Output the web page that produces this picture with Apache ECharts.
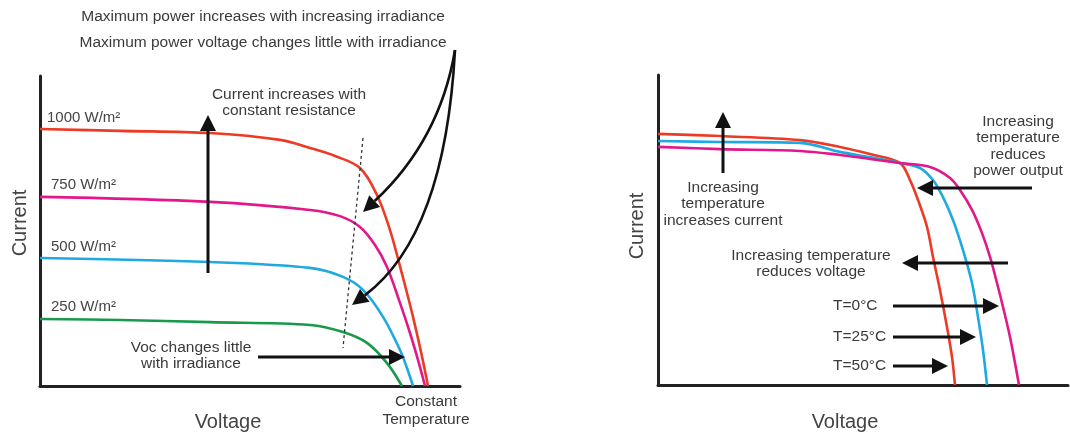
<!DOCTYPE html>
<html>
<head>
<meta charset="utf-8">
<script src="https://cdn.jsdelivr.net/npm/echarts@6/dist/echarts.min.js"></script>
<style>
html,body{margin:0;padding:0;background:#fff;}
#chart{width:1070px;height:434px;}
</style>
</head>
<body>
<div id="chart"></div>
<script>
// ---- Data (Voltage, Current) in arbitrary units ----
// Left panel: irradiance curves at constant temperature
const irr1000 = [[0,8.29],[4,8.23],[8.5,8.16],[12,7.94],[13.5,7.68],[14.75,7.42],[16,7.03],[16.85,6.16],[17.5,5.03],[18.05,3.74],[18.35,3.0],[18.65,2.23],[19.05,1.10],[19.4,0]];
const irr750  = [[0,6.10],[8.5,5.94],[13.5,5.68],[15,5.48],[16,5.13],[16.75,4.55],[17.35,3.84],[18,2.68],[18.5,1.71],[18.9,0.84],[19.25,0]];
const irr500  = [[0,4.13],[8.5,4.0],[13.5,3.81],[15.15,3.52],[16.15,3.10],[17.15,2.23],[18,1.16],[18.35,0.58],[18.65,0]];
const irr250  = [[0,2.16],[4,2.13],[8.5,2.06],[13.5,1.97],[15.15,1.74],[16.35,1.39],[17.35,0.74],[18.1,0]];
const irrLabels = ['1000 W/m²','750 W/m²','500 W/m²','250 W/m²'];

// Right panel: temperature curves
const temp50 = [[0,8.10],[3.1,8.03],[7.1,7.90],[9.1,7.68],[10.6,7.45],[12.1,7.16],[12.6,6.61],[13.0,5.97],[13.45,5.10],[13.75,4.13],[14.1,3.06],[14.45,1.87],[14.7,0.90],[14.85,0]];
const temp25 = [[0,7.87],[3.1,7.84],[7.1,7.81],[9.1,7.52],[10.6,7.35],[12.1,7.16],[13.1,7.0],[13.75,6.61],[14.25,6.06],[14.75,5.32],[15.25,4.35],[15.7,3.29],[16.0,2.19],[16.25,1.13],[16.45,0]];
const temp0  = [[0,7.68],[3.1,7.61],[7.1,7.55],[9.1,7.42],[10.6,7.29],[12.1,7.16],[13.6,7.03],[14.6,6.68],[15.1,6.29],[15.7,5.65],[16.2,4.90],[16.6,4.13],[16.95,3.29],[17.25,2.52],[17.6,1.55],[17.85,0.71],[18.05,0]];
const tempLabels = ['T=0°C','T=25°C','T=50°C'];

const RED='#ec3b25', MAG='#e2188a', BLUE='#1ea9e1', GREEN='#179a4c';
const FONT='"Liberation Sans", Arial, Helvetica, sans-serif';
const TXT='#3a3a3a';

function txt(x,y,s,opt){
  opt=opt||{};
  return {type:'text',x:x,y:y,rotation:opt.rot||0,z:10,
    style:{text:s,fill:opt.fill||TXT,font:(opt.size||15.5)+'px '+FONT,
      textAlign:opt.align||'center',textVerticalAlign:'middle'}};
}
function head(tx,ty,px,py,L,W){
  const a=Math.atan2(ty-py,tx-px);
  const bx=tx-L*Math.cos(a), by=ty-L*Math.sin(a);
  const nx=-Math.sin(a)*W, ny=Math.cos(a)*W;
  return {base:[bx,by],poly:{type:'polygon',z:10,shape:{points:[[tx,ty],[bx+nx,by+ny],[bx-nx,by-ny]]},style:{fill:'#111'}}};
}
function arrow(x1,y1,x2,y2){
  const h=head(x2,y2,x1,y1,16,8);
  return [{type:'line',z:10,shape:{x1:x1,y1:y1,x2:h.base[0],y2:h.base[1]},style:{stroke:'#111',lineWidth:3}},h.poly];
}
function curveArrow(x1,y1,cx,cy,x2,y2){
  const h=head(x2,y2,cx,cy,16,8);
  return [{type:'bezierCurve',z:10,shape:{x1:x1,y1:y1,cpx1:cx,cpy1:cy,x2:h.base[0],y2:h.base[1]},style:{stroke:'#111',lineWidth:2.6,fill:null}},h.poly];
}

const axisCommon = {
  show:true, axisLine:{show:true,onZero:false,lineStyle:{color:'#222',width:3}},
  axisTick:{show:false}, axisLabel:{show:false}, splitLine:{show:false}
};
function ser(data,color,idx){
  return {type:'line',data:data,xAxisIndex:idx,yAxisIndex:idx,showSymbol:false,symbol:'none',
    smooth:0.35,lineStyle:{color:color,width:2.6},z:3,silent:true};
}

const graphics = [].concat(
  // left panel texts
  txt(263,17,'Maximum power increases with increasing irradiance'),
  txt(263,43,'Maximum power voltage changes little with irradiance'),
  txt(289,95,'Current increases with'),
  txt(289,111,'constant resistance'),
  txt(47,118,irrLabels[0],{align:'left',fill:'#444',size:15}),
  txt(51,185,irrLabels[1],{align:'left',fill:'#444',size:15}),
  txt(51,247,irrLabels[2],{align:'left',fill:'#444',size:15}),
  txt(51,307,irrLabels[3],{align:'left',fill:'#444',size:15}),
  txt(191,348,'Voc changes little'),
  txt(191,364,'with irradiance'),
  txt(426,402,'Constant'),
  txt(426,420,'Temperature'),
  txt(228,422,'Voltage',{size:20,fill:'#444'}),
  txt(20,223,'Current',{size:20,fill:'#444',rot:Math.PI/2}),
  // left arrows
  arrow(208,273,208,115),
  arrow(258,357,405,357),
  [{type:'line',z:9,shape:{x1:363,y1:138,x2:343,y2:348},style:{stroke:'#333',lineWidth:1.3,lineDash:[3,3]}}],
  curveArrow(455,50,440,140,363,212),
  curveArrow(455,50,445,235,352,305),
  // right panel texts
  txt(723,188,'Increasing'),
  txt(723,204,'temperature'),
  txt(723,221,'increases current'),
  txt(1018,122,'Increasing'),
  txt(1018,138,'temperature'),
  txt(1018,155,'reduces'),
  txt(1018,171,'power output'),
  txt(811,256,'Increasing temperature'),
  txt(811,272,'reduces voltage'),
  txt(833,306,tempLabels[0],{align:'left'}),
  txt(833,337,tempLabels[1],{align:'left'}),
  txt(833,366,tempLabels[2],{align:'left'}),
  txt(845,422,'Voltage',{size:20,fill:'#444'}),
  txt(637,226,'Current',{size:20,fill:'#444',rot:Math.PI/2}),
  // right arrows
  arrow(723,173,723,112),
  arrow(1032,188,917,188),
  arrow(1008,263,902,263),
  arrow(893,306,999,306),
  arrow(893,337,976,337),
  arrow(893,366,948,366)
);

const chart = echarts.init(document.getElementById('chart'));
chart.setOption({
  backgroundColor:'#fff',
  animation:false,
  grid:[
    {left:40,top:76,width:420,height:310},
    {left:658,top:75,width:410,height:310}
  ],
  xAxis:[
    Object.assign({type:'value',gridIndex:0,min:0,max:21},axisCommon),
    Object.assign({type:'value',gridIndex:1,min:0,max:20.5},axisCommon)
  ],
  yAxis:[
    Object.assign({type:'value',gridIndex:0,min:0,max:10},axisCommon),
    Object.assign({type:'value',gridIndex:1,min:0,max:10},axisCommon)
  ],
  series:[
    ser(irr1000,RED,0),
    ser(irr750,MAG,0),
    ser(irr500,BLUE,0),
    ser(irr250,GREEN,0),
    ser(temp50,RED,1),
    ser(temp25,BLUE,1),
    ser(temp0,MAG,1)
  ],
  graphic:graphics
});
</script>
</body>
</html>
